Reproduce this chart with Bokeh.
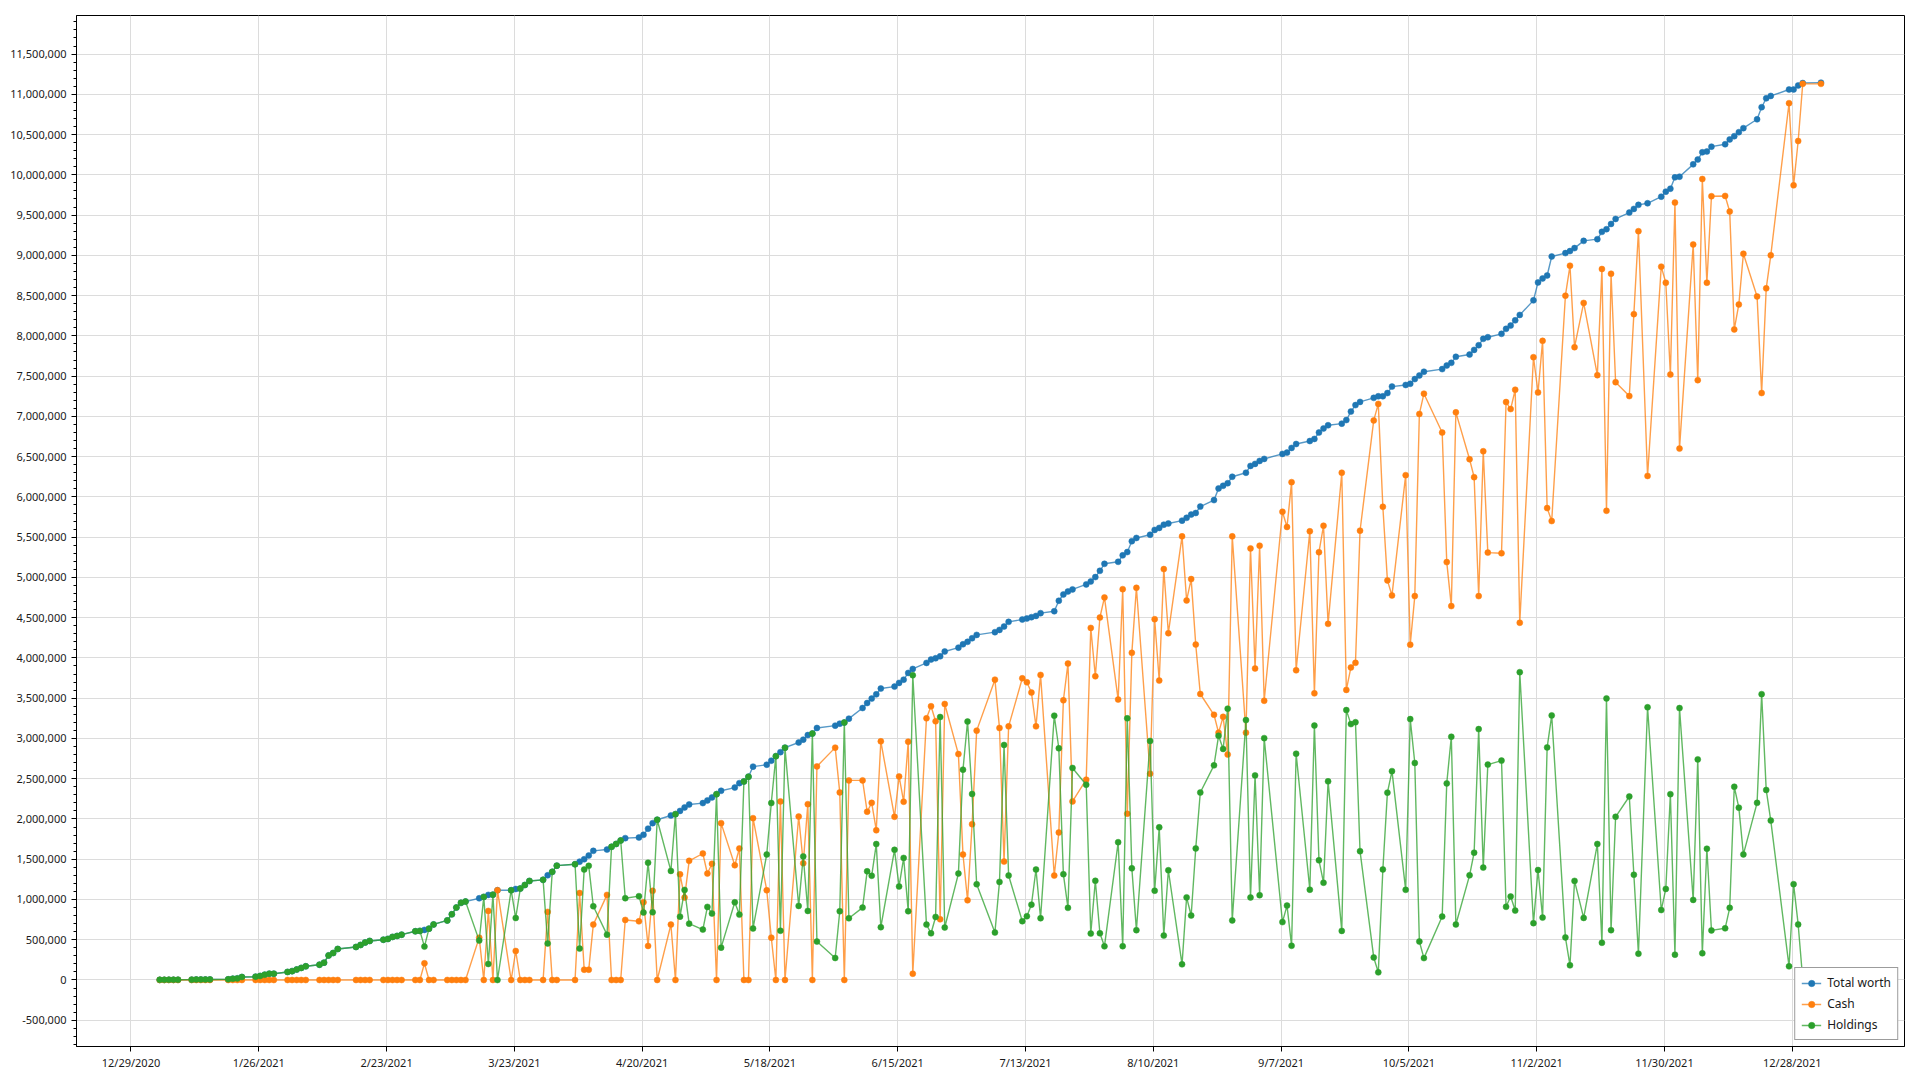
import pandas as pd
from bokeh.plotting import figure
from bokeh.models import FixedTicker, NumeralTickFormatter, Legend, LegendItem, Range1d, ColumnDataSource
from bokeh.embed import file_html
from bokeh.resources import INLINE

UNIT = 1_000_000

dates = [
    "2021-01-04", "2021-01-05", "2021-01-06", "2021-01-07", "2021-01-08",
    "2021-01-11", "2021-01-12", "2021-01-13", "2021-01-14", "2021-01-15",
    "2021-01-19", "2021-01-20", "2021-01-21", "2021-01-22",
    "2021-01-25", "2021-01-26", "2021-01-27", "2021-01-28", "2021-01-29",
    "2021-02-01", "2021-02-02", "2021-02-03", "2021-02-04", "2021-02-05",
    "2021-02-08", "2021-02-09", "2021-02-10", "2021-02-11", "2021-02-12",
    "2021-02-16", "2021-02-17", "2021-02-18", "2021-02-19",
    "2021-02-22", "2021-02-23", "2021-02-24", "2021-02-25", "2021-02-26",
    "2021-03-01", "2021-03-02", "2021-03-03", "2021-03-04", "2021-03-05",
    "2021-03-08", "2021-03-09", "2021-03-10", "2021-03-11", "2021-03-12",
    "2021-03-15", "2021-03-16", "2021-03-17", "2021-03-18", "2021-03-19",
    "2021-03-22", "2021-03-23", "2021-03-24", "2021-03-25", "2021-03-26",
    "2021-03-29", "2021-03-30", "2021-03-31",
    "2021-04-01",
    "2021-04-05", "2021-04-06", "2021-04-07", "2021-04-08", "2021-04-09",
    "2021-04-12", "2021-04-13", "2021-04-14", "2021-04-15", "2021-04-16",
    "2021-04-19", "2021-04-20", "2021-04-21", "2021-04-22", "2021-04-23",
    "2021-04-26", "2021-04-27", "2021-04-28", "2021-04-29", "2021-04-30",
    "2021-05-03", "2021-05-04", "2021-05-05", "2021-05-06", "2021-05-07",
    "2021-05-10", "2021-05-11", "2021-05-12", "2021-05-13", "2021-05-14",
    "2021-05-17", "2021-05-18", "2021-05-19", "2021-05-20", "2021-05-21",
    "2021-05-24", "2021-05-25", "2021-05-26", "2021-05-27", "2021-05-28",
    "2021-06-01", "2021-06-02", "2021-06-03", "2021-06-04",
    "2021-06-07", "2021-06-08", "2021-06-09", "2021-06-10", "2021-06-11",
    "2021-06-14", "2021-06-15", "2021-06-16", "2021-06-17", "2021-06-18",
    "2021-06-21", "2021-06-22", "2021-06-23", "2021-06-24", "2021-06-25",
    "2021-06-28", "2021-06-29", "2021-06-30",
    "2021-07-01", "2021-07-02",
    "2021-07-06", "2021-07-07", "2021-07-08", "2021-07-09",
    "2021-07-12", "2021-07-13", "2021-07-14", "2021-07-15", "2021-07-16",
    "2021-07-19", "2021-07-20", "2021-07-21", "2021-07-22", "2021-07-23",
    "2021-07-26", "2021-07-27", "2021-07-28", "2021-07-29", "2021-07-30",
    "2021-08-02", "2021-08-03", "2021-08-04", "2021-08-05", "2021-08-06",
    "2021-08-09", "2021-08-10", "2021-08-11", "2021-08-12", "2021-08-13",
    "2021-08-16", "2021-08-17", "2021-08-18", "2021-08-19", "2021-08-20",
    "2021-08-23", "2021-08-24", "2021-08-25", "2021-08-26", "2021-08-27",
    "2021-08-30", "2021-08-31",
    "2021-09-01", "2021-09-02", "2021-09-03",
    "2021-09-07", "2021-09-08", "2021-09-09", "2021-09-10",
    "2021-09-13", "2021-09-14", "2021-09-15", "2021-09-16", "2021-09-17",
    "2021-09-20", "2021-09-21", "2021-09-22", "2021-09-23", "2021-09-24",
    "2021-09-27", "2021-09-28", "2021-09-29", "2021-09-30",
    "2021-10-01",
    "2021-10-04", "2021-10-05", "2021-10-06", "2021-10-07", "2021-10-08",
    "2021-10-12", "2021-10-13", "2021-10-14", "2021-10-15",
    "2021-10-18", "2021-10-19", "2021-10-20", "2021-10-21", "2021-10-22",
    "2021-10-25", "2021-10-26", "2021-10-27", "2021-10-28", "2021-10-29",
    "2021-11-01", "2021-11-02", "2021-11-03", "2021-11-04", "2021-11-05",
    "2021-11-08", "2021-11-09", "2021-11-10", "2021-11-12",
    "2021-11-15", "2021-11-16", "2021-11-17", "2021-11-18", "2021-11-19",
    "2021-11-22", "2021-11-23", "2021-11-24", "2021-11-26",
    "2021-11-29", "2021-11-30",
    "2021-12-01", "2021-12-02", "2021-12-03",
    "2021-12-06", "2021-12-07", "2021-12-08", "2021-12-09", "2021-12-10",
    "2021-12-13", "2021-12-14", "2021-12-15", "2021-12-16", "2021-12-17",
    "2021-12-20", "2021-12-21", "2021-12-22", "2021-12-23",
    "2021-12-27", "2021-12-28", "2021-12-29", "2021-12-30",
    "2022-01-03",
]

# values in millions
total_worth = [
    0.002, 0.002, 0.003, 0.003, 0.003, 0.004, 0.005, 0.005, 0.006, 0.007,
    0.008, 0.016, 0.020, 0.037, 0.041, 0.050, 0.066, 0.078, 0.078,
    0.100, 0.110, 0.130, 0.150, 0.170, 0.190, 0.215, 0.305, 0.335, 0.385,
    0.410, 0.435, 0.465, 0.485, 0.500, 0.510, 0.535, 0.547, 0.563,
    0.605, 0.610, 0.622, 0.638, 0.690, 0.740, 0.816, 0.900, 0.958, 0.974,
    1.015, 1.032, 1.057, 1.060, 1.115, 1.115, 1.130, 1.135, 1.180, 1.230,
    1.244, 1.300, 1.343,
    1.420, 1.438, 1.470, 1.500, 1.546, 1.604, 1.620, 1.654, 1.690, 1.733, 1.762,
    1.770, 1.803, 1.880, 1.948, 1.990, 2.043, 2.060, 2.100, 2.143, 2.180,
    2.197, 2.230, 2.268, 2.308, 2.350, 2.390, 2.445, 2.466, 2.525, 2.650,
    2.674, 2.724, 2.780, 2.830, 2.885, 2.950, 2.985, 3.042, 3.060, 3.130,
    3.159, 3.184, 3.197, 3.246, 3.378, 3.440, 3.495, 3.548, 3.620,
    3.644, 3.690, 3.730, 3.814, 3.863, 3.938, 3.980, 3.996, 4.020, 4.080,
    4.128, 4.170, 4.200,
    4.245, 4.286, 4.320, 4.348, 4.390, 4.448, 4.477, 4.490, 4.506, 4.522, 4.556,
    4.580, 4.710, 4.788, 4.826, 4.851, 4.913, 4.950, 5.004, 5.082, 5.169,
    5.194, 5.274, 5.315, 5.450, 5.490, 5.530, 5.590, 5.615, 5.655, 5.670,
    5.705, 5.740, 5.780, 5.800, 5.880, 5.960, 6.105, 6.138, 6.170, 6.250,
    6.300, 6.385,
    6.410, 6.447, 6.472, 6.534, 6.550, 6.608, 6.657, 6.694, 6.720, 6.800,
    6.850, 6.890, 6.910, 6.955, 7.060, 7.140, 7.180, 7.230, 7.250, 7.250, 7.290,
    7.370, 7.390, 7.405, 7.463, 7.508, 7.554, 7.587, 7.632, 7.665, 7.740,
    7.768, 7.826, 7.884, 7.963, 7.983, 8.025, 8.087, 8.128, 8.193, 8.260,
    8.441, 8.664, 8.713, 8.750, 8.986, 9.028, 9.053, 9.090, 9.180,
    9.201, 9.292, 9.325, 9.390, 9.452, 9.531, 9.577, 9.627, 9.647, 9.729, 9.791,
    9.828, 9.969, 9.977, 10.130, 10.190, 10.280, 10.290, 10.350,
    10.380, 10.440, 10.480, 10.530, 10.580, 10.690, 10.840, 10.950, 10.980,
    11.060, 11.060, 11.110, 11.140,
    11.145,
]

cash = [
    0, 0, 0, 0, 0, 0, 0, 0, 0, 0, 0, 0, 0, 0, 0, 0, 0, 0, 0,
    0, 0, 0, 0, 0, 0, 0, 0, 0, 0, 0, 0, 0, 0, 0, 0, 0, 0, 0,
    0, 0, 0.207, 0, 0, 0, 0, 0, 0, 0,
    0.526, 0, 0.858, 0, 1.115, 0, 0.360, 0, 0, 0,
    0, 0.846, 0,
    0, 0, 1.080, 0.128, 0.128, 0.688, 1.057, 0, 0, 0, 0.746,
    0.729, 0.965, 0.423, 1.107, 0, 0.688, 0, 1.313, 1.024, 1.480,
    1.571, 1.322, 1.443, 0, 1.948, 1.425, 1.633, 0, 0, 2.010,
    1.115, 0.526, 0, 2.218, 0, 2.030, 1.450, 2.184, 0, 2.653,
    2.886, 2.330, 0, 2.479, 2.479, 2.090, 2.200, 1.860, 2.964,
    2.027, 2.528, 2.214, 2.960, 0.078, 3.250, 3.400, 3.213, 0.754, 3.428,
    2.806, 1.558, 0.990,
    1.935, 3.097, 3.730, 3.130, 1.471, 3.150, 3.747, 3.698, 3.570, 3.150, 3.789,
    1.297, 1.832, 3.474, 3.930, 2.218, 2.488, 4.373, 3.772, 4.502, 4.751,
    3.483, 4.854, 2.065, 4.063, 4.871, 2.562, 4.481, 3.719, 5.103, 4.307,
    5.510, 4.714, 4.979, 4.166, 3.552, 3.294, 3.072, 3.268, 2.800, 5.510,
    3.072, 5.360,
    3.869, 5.394, 3.468, 5.815, 5.626, 6.183, 3.847, 5.573, 3.560, 5.313,
    5.642, 4.423, 6.300, 3.603, 3.882, 3.939, 5.580, 6.950, 7.155, 5.877, 4.963,
    4.776, 6.270, 4.165, 4.768, 7.030, 7.282, 6.799, 5.190, 4.644, 7.050,
    6.468, 6.245, 4.768, 6.567, 5.308, 5.300, 7.178, 7.091, 7.331, 4.437,
    7.735, 7.298, 7.938, 5.861, 5.700, 8.499, 8.871, 7.859, 8.409,
    7.512, 8.830, 5.828, 8.771, 7.425, 7.252, 8.270, 9.300, 6.260, 8.860, 8.660,
    7.520, 9.655, 6.600, 9.135, 7.450, 9.948, 8.660, 9.734,
    9.738, 9.544, 8.080, 8.390, 9.020, 8.490, 7.290, 8.590, 9.000,
    10.890, 9.870, 10.420, 11.130,
    11.130,
]

holdings = [
    0.002, 0.002, 0.003, 0.003, 0.003, 0.004, 0.005, 0.005, 0.006, 0.007,
    0.008, 0.016, 0.020, 0.037, 0.041, 0.050, 0.066, 0.078, 0.078,
    0.100, 0.110, 0.130, 0.150, 0.170, 0.190, 0.215, 0.305, 0.335, 0.385,
    0.410, 0.435, 0.465, 0.485, 0.500, 0.510, 0.535, 0.547, 0.563,
    0.605, 0.610, 0.415, 0.638, 0.690, 0.740, 0.816, 0.900, 0.958, 0.974,
    0.489, 1.032, 0.199, 1.060, 0.000, 1.115, 0.770, 1.135, 1.180, 1.230,
    1.244, 0.454, 1.343,
    1.420, 1.438, 0.390, 1.372, 1.418, 0.916, 0.563, 1.654, 1.690, 1.733, 1.016,
    1.041, 0.838, 1.457, 0.841, 1.990, 1.355, 2.060, 0.787, 1.119, 0.700,
    0.626, 0.908, 0.825, 2.308, 0.402, 0.965, 0.812, 2.466, 2.525, 0.640,
    1.559, 2.198, 2.780, 0.612, 2.885, 0.920, 1.535, 0.858, 3.060, 0.477,
    0.273, 0.854, 3.197, 0.767, 0.899, 1.350, 1.295, 1.688, 0.656,
    1.617, 1.162, 1.516, 0.854, 3.785, 0.688, 0.580, 0.783, 3.266, 0.652,
    1.322, 2.612, 3.210,
    2.310, 1.189, 0.590, 1.218, 2.919, 1.298, 0.730, 0.792, 0.936, 1.372, 0.767,
    3.283, 2.878, 1.314, 0.896, 2.633, 2.425, 0.577, 1.232, 0.580, 0.418,
    1.711, 0.420, 3.250, 1.387, 0.619, 2.968, 1.109, 1.896, 0.552, 1.363,
    0.195, 1.026, 0.801, 1.634, 2.328, 2.666, 3.033, 2.870, 3.370, 0.740,
    3.228, 1.025,
    2.541, 1.053, 3.004, 0.719, 0.924, 0.425, 2.810, 1.121, 3.160, 1.487,
    1.208, 2.467, 0.610, 3.352, 3.178, 3.201, 1.600, 0.280, 0.095, 1.373, 2.327,
    2.594, 1.120, 3.240, 2.695, 0.478, 0.272, 0.788, 2.442, 3.021, 0.690,
    1.300, 1.581, 3.116, 1.396, 2.675, 2.725, 0.909, 1.037, 0.862, 3.823,
    0.706, 1.366, 0.775, 2.889, 3.286, 0.529, 0.182, 1.231, 0.771,
    1.689, 0.462, 3.497, 0.619, 2.027, 2.279, 1.307, 0.327, 3.387, 0.869, 1.131,
    2.308, 0.314, 3.377, 0.995, 2.740, 0.332, 1.630, 0.616,
    0.642, 0.896, 2.400, 2.140, 1.560, 2.200, 3.550, 2.360, 1.980,
    0.170, 1.190, 0.690, 0.010,
    0.015,
]

x_tick_labels = [
    "12/29/2020", "1/26/2021", "2/23/2021", "3/23/2021", "4/20/2021",
    "5/18/2021", "6/15/2021", "7/13/2021", "8/10/2021", "9/7/2021",
    "10/5/2021", "11/2/2021", "11/30/2021", "12/28/2021",
]
series_names = ["Total worth", "Cash", "Holdings"]
series_colors = ["#1f77b4", "#ff7f0e", "#2ca02c"]

assert len(dates) == len(total_worth) == len(cash) == len(holdings), (
    len(dates), len(total_worth), len(cash), len(holdings))

origin = pd.Timestamp("2020-12-29")
xs = [(pd.Timestamp(d) - origin).days + 0.3 for d in dates]
tick_pos = [(pd.to_datetime(t, format="%m/%d/%Y") - origin).days for t in x_tick_labels]

source = ColumnDataSource(data=dict(
    x=xs,
    total=[v * UNIT for v in total_worth],
    cash=[v * UNIT for v in cash],
    holdings=[v * UNIT for v in holdings],
))

p = figure(
    width=1912, height=1072,
    output_backend="svg", toolbar_location=None,
    x_range=Range1d(-11.94, 388.6), y_range=Range1d(-826000, 11979000),
    min_border_left=76, min_border_right=8, min_border_top=15, min_border_bottom=23,
    background_fill_color="white", border_fill_color="white",
)
p.outline_line_color = "black"
p.outline_line_width = 1

# axes
p.xaxis.ticker = FixedTicker(ticks=tick_pos, minor_ticks=[])
p.xaxis.major_label_overrides = {tp: lab for tp, lab in zip(tick_pos, x_tick_labels)}
y_major = list(range(-500000, 11500001, 500000))
y_minor = list(range(-800000, 11900001, 100000))
p.yaxis.ticker = FixedTicker(ticks=y_major, minor_ticks=y_minor)
p.yaxis.formatter = NumeralTickFormatter(format="0,0")

for ax in (p.xaxis[0], p.yaxis[0]):
    ax.axis_line_color = "black"
    ax.major_tick_line_color = "black"
    ax.minor_tick_line_color = "black"
    ax.major_tick_out = 5
    ax.major_tick_in = 0
    ax.minor_tick_out = 3
    ax.minor_tick_in = 0
    ax.major_label_text_font = "Noto Sans"
    ax.major_label_text_font_size = "11px"
    ax.major_label_text_color = "#1a1a1a"
p.xaxis.major_label_standoff = 3
p.yaxis.major_label_standoff = 5

p.xgrid.ticker = FixedTicker(ticks=tick_pos)
p.ygrid.ticker = FixedTicker(ticks=y_major)
p.grid.grid_line_color = "#dcdcdc"
p.grid.grid_line_width = 1

items = []
for col, name, color in zip(["total", "cash", "holdings"], series_names, series_colors):
    ln = p.line("x", col, source=source, line_color=color, line_width=1.4, line_alpha=0.75)
    sc = p.scatter("x", col, source=source, size=6, fill_color=color, line_color=color, line_width=0.5)
    items.append(LegendItem(label=name, renderers=[ln, sc]))

legend = Legend(
    items=items, location="bottom_right", margin=6, padding=6, spacing=4,
    label_height=16, glyph_height=16, glyph_width=20, label_standoff=6,
    label_text_font="Noto Sans", label_text_font_size="12px", label_text_color="#1a1a1a",
    border_line_color="#3a3a3a", border_line_width=1,
    background_fill_color="white", background_fill_alpha=1.0,
)
p.add_layout(legend, "center")

open("out.html", "w").write(file_html(p, INLINE))
